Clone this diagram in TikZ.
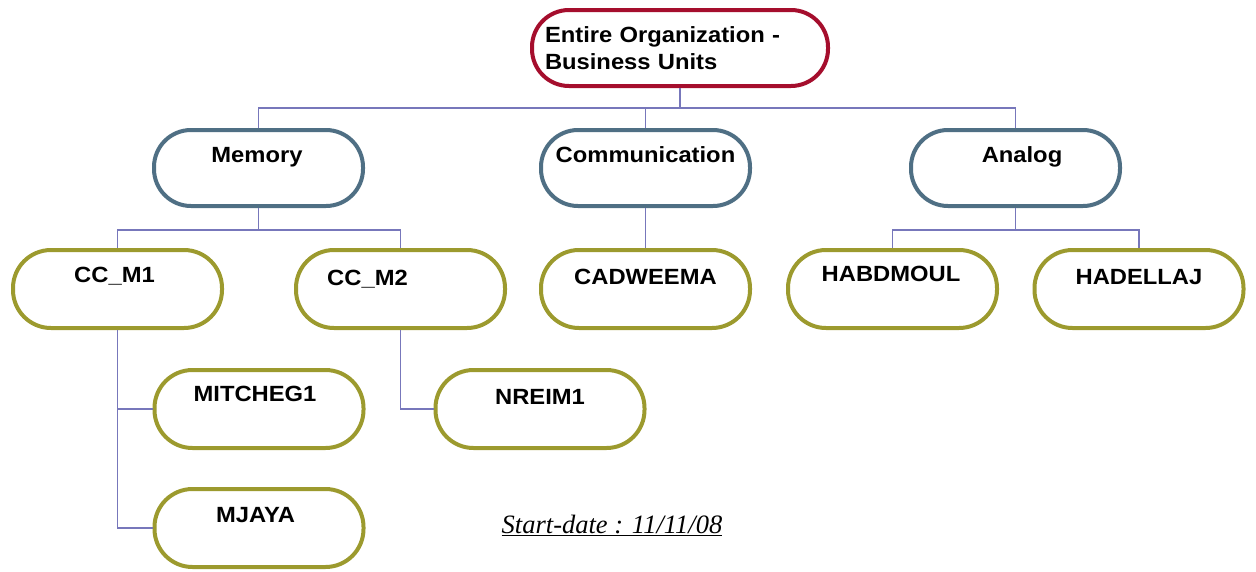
\documentclass[tikz,border=0pt]{standalone}
\usepackage{fontspec}
\setmainfont{Liberation Serif}
\setsansfont{Liberation Sans}[FakeStretch=1.08]
\definecolor{rootred}{HTML}{A50E2D}
\definecolor{unitblue}{HTML}{4F6F84}
\definecolor{leafolive}{HTML}{9C9A2E}
\definecolor{connlilac}{HTML}{7777BB}
\newcommand\shiftx[2]{\makebox[0pt]{\hspace*{#1}#2}}
\tikzset{
  pillbase/.style={draw, fill=white, line width=4pt, rectangle, rounded corners=37pt,
    minimum width=209pt, minimum height=76pt, inner sep=0pt,
    font=\sffamily\bfseries\fontsize{22}{27}\selectfont},
  pill/.style={pillbase, text height=15pt},
  rootbox/.style={pillbase, draw=rootred, minimum width=296pt, text width=270pt, align=left},
  unitbox/.style={pill, draw=unitblue},
  leafbox/.style={pill, draw=leafolive, minimum height=78pt, rounded corners=38pt},
  lift/.style={text depth=#1},
  conn/.style={draw=connlilac, line width=1.5pt}
}
\begin{document}
\begin{tikzpicture}[x=1pt,y=-1pt]
\useasboundingbox (0,0) rectangle (1256,571);
\node[rootbox] (root) at (680,48) {Entire Organization -\\Business Units};
\node[unitbox, lift=27pt] (mem) at (258.5,168) {\shiftx{-3pt}{Memory}};
\node[unitbox, lift=27pt] (com) at (645.5,168) {Communication};
\node[unitbox, lift=27pt] (ana) at (1015.5,168) {\shiftx{13pt}{Analog}};
\node[leafbox, lift=29pt] (cc1) at (117.5,289) {\shiftx{-6pt}{CC\_M1}};
\node[leafbox, lift=23pt] (cc2) at (400.5,289) {\shiftx{-66pt}{CC\_M2}};
\node[leafbox, lift=25pt] (cad) at (645.5,289) {CADWEEMA};
\node[leafbox, lift=31pt] (hab) at (892.5,289) {\shiftx{-3pt}{HABDMOUL}};
\node[leafbox, lift=25pt] (had) at (1139,289) {HADELLAJ};
\node[leafbox, lift=31pt] (mit) at (259,409) {\shiftx{-8pt}{MITCHEG1}};
\node[leafbox, lift=25pt] (nre) at (540,409) {NREIM1};
\node[leafbox, lift=27pt] (mja) at (259,528) {\shiftx{-7pt}{MJAYA}};
\node[font=\itshape\fontsize{26.5}{30}\selectfont, inner sep=0pt] (date) at (612,525) {\underline{Start-date : 11/11/08}};
\draw[conn] (root.south) -- ++(0,20) -| (mem.north);
\draw[conn] (root.south) -- ++(0,20) -| (com.north);
\draw[conn] (root.south) -- ++(0,20) -| (ana.north);
\draw[conn] (mem.south) -- ++(0,22) -| (cc1.north);
\draw[conn] (mem.south) -- ++(0,22) -| (cc2.north);
\draw[conn] (com.south) -- (cad.north);
\draw[conn] (ana.south) -- ++(0,22) -| (hab.north);
\draw[conn] (ana.south) -- ++(0,22) -| (had.north);
\draw[conn] (cc1.south) |- (mit.west);
\draw[conn] (cc1.south) |- (mja.west);
\draw[conn] (cc2.south) |- (nre.west);
\end{tikzpicture}
\end{document}
